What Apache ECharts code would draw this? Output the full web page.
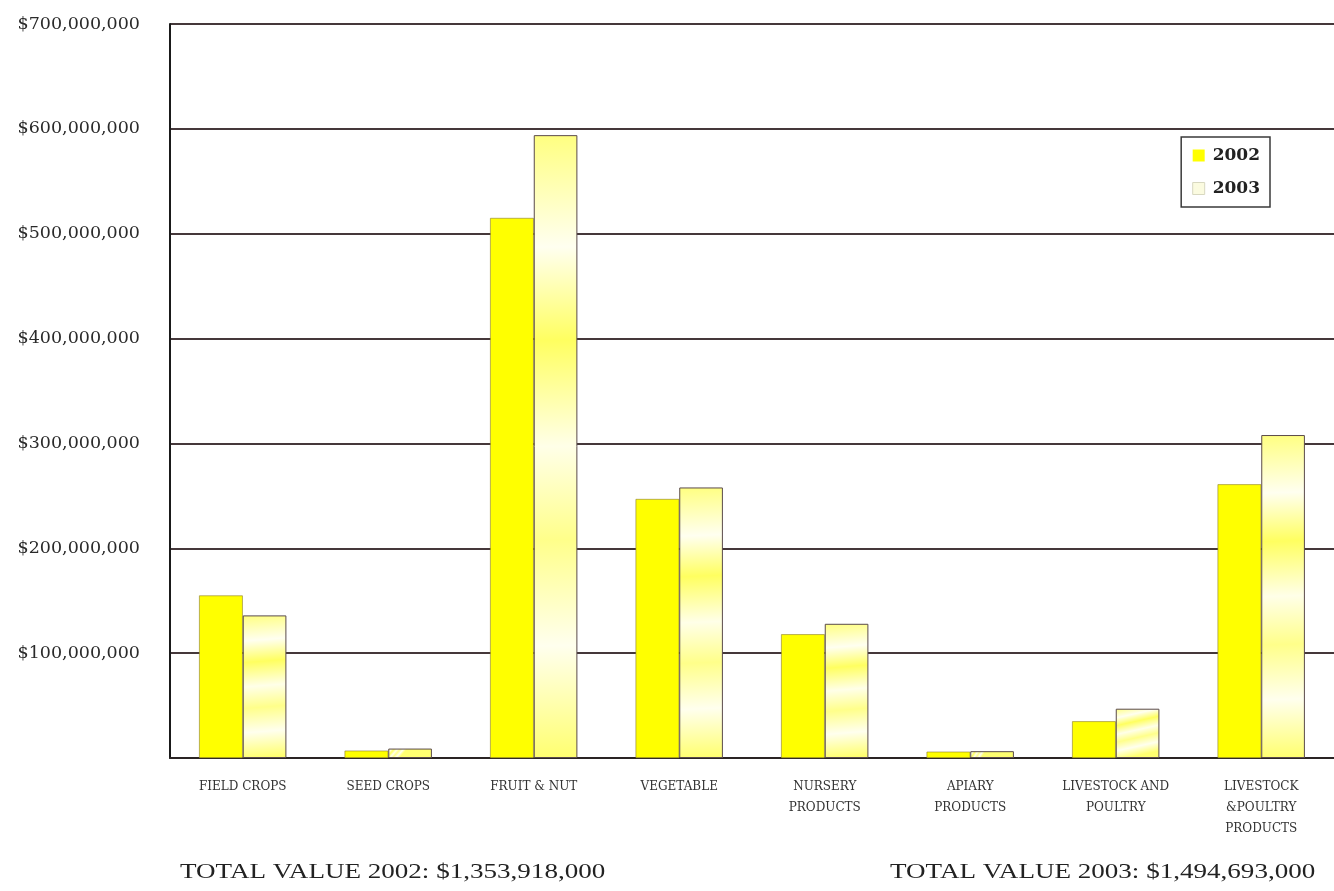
<!DOCTYPE html>
<html>
<head>
<meta charset="utf-8">
<script src="https://cdn.jsdelivr.net/npm/echarts@6/dist/echarts.min.js"></script>
<style>
  html, body { margin: 0; padding: 0; background: #fff; }
  #chart { width: 1334px; height: 891px; }
</style>
</head>
<body>
<div id="chart"></div>
<script>
// Crop value by commodity group, two seasons
const categories = [
  'FIELD CROPS', 'SEED CROPS', 'FRUIT & NUT', 'VEGETABLE',
  'NURSERY\nPRODUCTS', 'APIARY\nPRODUCTS', 'LIVESTOCK AND\nPOULTRY',
  'LIVESTOCK\n&POULTRY\nPRODUCTS'
];
const values2002 = [155000000, 7000000, 515000000, 247000000, 118000000, 6000000, 35000000, 261000000];
const values2003 = [136000000, 9000000, 594000000, 258000000, 128000000, 6500000, 47000000, 308000000];
const seriesNames = ['2002', '2003'];
const totals = ['TOTAL VALUE 2002: $1,353,918,000', 'TOTAL VALUE 2003: $1,494,693,000'];

const serif = '"Liberation Serif", "DejaVu Serif", serif';
const wideSerif = '"DejaVu Serif", "Liberation Serif", serif';

function dollars(v) {
  return '$' + v.toString().replace(/\B(?=(\d{3})+(?!\d))/g, ',');
}

// streaky pale fill for the second season
const pale = new echarts.graphic.LinearGradient(0, 0, 0.25, 1, [
  { offset: 0, color: '#ffff80' },
  { offset: 0.18, color: '#fffff0' },
  { offset: 0.33, color: '#ffff60' },
  { offset: 0.5, color: '#ffffe8' },
  { offset: 0.65, color: '#ffff8a' },
  { offset: 0.82, color: '#ffffee' },
  { offset: 1, color: '#ffff70' }
]);

const chart = echarts.init(document.getElementById('chart'), null, { renderer: 'canvas' });
chart.setOption({
  backgroundColor: '#ffffff',
  animation: false,
  grid: { left: 170, right: 0, top: 24, bottom: 133 },
  legend: {
    data: [
      { name: seriesNames[0], itemStyle: { color: '#ffff00', borderWidth: 0 } },
      { name: seriesNames[1], itemStyle: { color: '#fbfbe0', borderColor: '#d8d8c0', borderWidth: 1 } }
    ],
    orient: 'vertical',
    right: 64,
    top: 137,
    padding: [10, 10, 10, 11],
    itemGap: 16,
    itemWidth: 12,
    itemHeight: 12,
    backgroundColor: '#ffffff',
    borderColor: '#3a3a3a',
    borderWidth: 1.5,
    textStyle: { fontFamily: wideSerif, fontSize: 17, fontWeight: 'bold', color: '#222', padding: [0, 0, 0, 3] },
    icon: 'rect'
  },
  xAxis: {
    type: 'category',
    data: categories,
    axisLine: { show: true, lineStyle: { color: '#2a2424', width: 2 } },
    axisTick: { show: false },
    axisLabel: {
      interval: 0,
      margin: 18,
      fontFamily: wideSerif,
      fontSize: 12,
      lineHeight: 21,
      color: '#333'
    }
  },
  yAxis: {
    type: 'value',
    min: 0,
    max: 700000000,
    interval: 100000000,
    axisLine: { show: true, lineStyle: { color: '#1a1a1a', width: 2 } },
    axisTick: { show: false },
    splitLine: { lineStyle: { color: '#45383a', width: 2 } },
    axisLabel: {
      margin: 30,
      fontFamily: wideSerif,
      fontSize: 17.5,
      color: '#2a2a2a',
      formatter: v => (v === 0 ? '' : dollars(v))
    }
  },
  series: [
    {
      name: seriesNames[0],
      type: 'bar',
      data: values2002,
      barGap: '0%',
      barCategoryGap: '40%',
      itemStyle: { color: '#ffff00', borderColor: '#8a7a30', borderWidth: 0.6 }
    },
    {
      name: seriesNames[1],
      type: 'bar',
      data: values2003,
      itemStyle: { color: pale, borderColor: '#5a4a4a', borderWidth: 1 }
    }
  ],
  graphic: [
    {
      type: 'text', x: 180, y: 861, scaleX: 1.23,
      style: { text: totals[0], font: '22px ' + serif, fill: '#222' }
    },
    {
      type: 'text', x: 890, y: 861, scaleX: 1.23,
      style: { text: totals[1], font: '22px ' + serif, fill: '#222' }
    }
  ]
});
</script>
</body>
</html>
